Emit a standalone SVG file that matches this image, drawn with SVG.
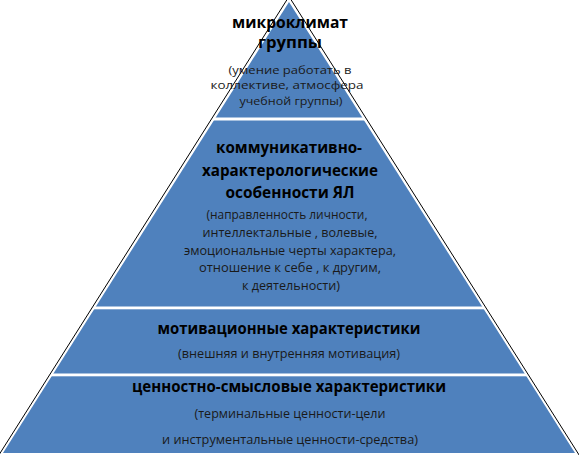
<svg xmlns="http://www.w3.org/2000/svg" width="579" height="455" viewBox="0 0 579 455">
<style>
.h{font-family:"Open Sans","Liberation Sans",sans-serif;font-weight:bold;font-size:15.5px;fill:#000;text-anchor:middle}
.s{font-family:"Open Sans","Liberation Sans",sans-serif;font-size:12.5px;fill:#1a1a1a;text-anchor:middle}
.t{font-size:11px}
.sep{fill:#fff}
</style>
<rect width="579" height="455" fill="#fff"/>
<g id="pyramid">
<polygon points="289,2 3,453 575,453" fill="#4f81bd"/>
<rect class="sep" x="0" y="117.5" width="579" height="3"/>
<rect class="sep" x="0" y="306.5" width="579" height="2.8"/>
<rect class="sep" x="0" y="373.5" width="579" height="2.8"/>
<polyline points="-3,458 289,-3.5 581,458" fill="none" stroke="#000" stroke-width="1"/>
</g>
<g id="level-microclimate">
<text class="h" x="290" y="28" textLength="116" lengthAdjust="spacingAndGlyphs">микроклимат</text>
<text class="h" x="290" y="48" textLength="64" lengthAdjust="spacingAndGlyphs">группы</text>
<text class="s t" x="290" y="74" textLength="123" lengthAdjust="spacingAndGlyphs">(умение работать в</text>
<text class="s t" x="287" y="89.3" textLength="153" lengthAdjust="spacingAndGlyphs">коллективе, атмосфера</text>
<text class="s t" x="291" y="104.6" textLength="103" lengthAdjust="spacingAndGlyphs">учебной группы)</text>
</g>
<g id="level-communicative">
<text class="h" x="289" y="153" textLength="146" lengthAdjust="spacingAndGlyphs">коммуникативно-</text>
<text class="h" x="290" y="176" textLength="176" lengthAdjust="spacingAndGlyphs">характерологические</text>
<text class="h" x="290" y="198" textLength="129" lengthAdjust="spacingAndGlyphs">особенности ЯЛ</text>
<text class="s" x="287" y="219" textLength="161" lengthAdjust="spacingAndGlyphs">(направленность личности,</text>
<text class="s" x="290" y="237" textLength="175" lengthAdjust="spacingAndGlyphs">интеллектальные , волевые,</text>
<text class="s" x="290" y="255" textLength="212" lengthAdjust="spacingAndGlyphs">эмоциональные черты характера,</text>
<text class="s" x="290" y="272" textLength="182" lengthAdjust="spacingAndGlyphs">отношение к себе , к другим,</text>
<text class="s" x="291" y="290" textLength="98" lengthAdjust="spacingAndGlyphs">к деятельности)</text>
</g>
<g id="level-motivational">
<text class="h" x="289" y="334" textLength="263" lengthAdjust="spacingAndGlyphs">мотивационные характеристики</text>
<text class="s" x="289" y="358" textLength="222" lengthAdjust="spacingAndGlyphs">(внешняя и внутренняя мотивация)</text>
</g>
<g id="level-values">
<text class="h" x="289" y="392" textLength="314" lengthAdjust="spacingAndGlyphs">ценностно-смысловые характеристики</text>
<text class="s" x="290" y="418" textLength="191" lengthAdjust="spacingAndGlyphs">(терминальные ценности-цели</text>
<text class="s" x="290" y="444" textLength="256" lengthAdjust="spacingAndGlyphs">и инструментальные ценности-средства)</text>
</g>
<g id="connectors"></g>
</svg>
